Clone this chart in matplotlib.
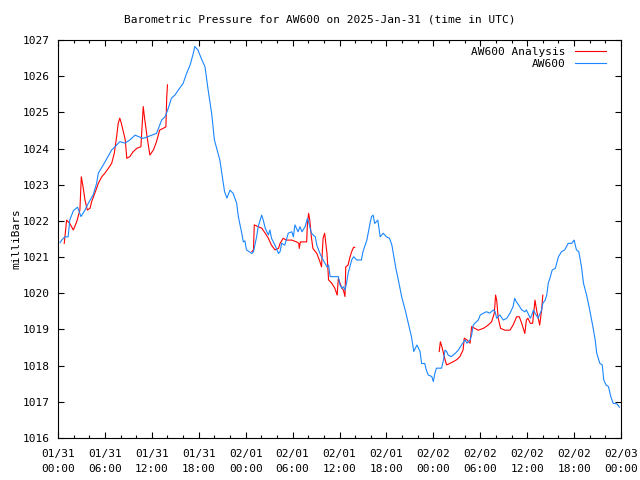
import numpy as np
import pandas as pd
import matplotlib
matplotlib.use("Agg")
import matplotlib.pyplot as plt
import matplotlib.dates as mdates

plt.rcParams['font.family'] = ['DejaVu Sans Mono']
plt.rcParams['font.size'] = 8

start = pd.Timestamp("2025-01-31 00:00")

# AW600 observations: hours since 01/31 00:00 UTC, pressure (mb)
aw600_hours = [0.26, 0.55, 0.9, 1.3, 1.5, 1.96, 2.5, 2.94, 3.45, 3.88, 4.5, 4.94, 5.16, 5.8, 6.4,
               6.86, 7.3, 7.9, 8.57, 9.2, 9.85, 10.3, 10.9, 12.0, 12.6, 13.26, 13.7, 14.1, 14.5,
               14.96, 15.4, 16.0, 16.45, 16.9, 17.3, 17.5, 17.9, 18.4, 18.8, 19.2, 19.65, 20.0,
               20.7, 21.3, 21.6, 22.0, 22.4, 22.85, 23.06, 23.5, 23.7, 23.9, 24.1, 24.8, 25.0,
               25.4, 25.6, 26.05, 26.25, 26.5, 26.9, 27.1, 27.3, 27.75, 28.2, 28.4, 28.6, 29.0,
               29.45, 29.9, 30.1, 30.3, 30.7, 30.95, 31.2, 31.6, 31.9, 32.1, 32.4, 32.9, 33.1,
               33.5, 33.9, 34.4, 34.6, 34.8, 35.4, 35.85, 36.06, 36.3, 36.5, 36.7, 36.9, 37.1,
               37.56, 37.8, 38.2, 38.8, 39.0, 39.5, 39.9, 40.1, 40.3, 40.5, 40.9, 41.2, 41.6,
               42.0, 42.4, 42.7, 43.2, 43.7, 43.95, 44.4, 44.8, 45.2, 45.5, 45.9, 46.3, 46.5,
               46.9, 47.1, 47.35, 47.8, 48.0, 48.2, 48.4, 49.05, 49.3, 49.5, 49.7, 49.9, 50.3,
               50.8, 51.2, 51.6, 52.05, 52.3, 52.7, 52.9, 53.1, 53.3, 53.75, 54.0, 54.4, 54.8,
               55.2, 55.7, 55.9, 56.1, 56.5, 56.95, 57.4, 57.8, 58.2, 58.4, 58.6, 58.9, 59.3,
               59.7, 59.9, 60.4, 60.6, 60.8, 61.0, 61.4, 61.85, 62.0, 62.3, 62.5, 62.7, 62.9,
               63.2, 63.6, 64.0, 64.4, 64.8, 65.25, 65.7, 66.0, 66.3, 66.6, 66.95, 67.2, 67.6,
               68.0, 68.4, 68.7, 68.9, 69.3, 69.6, 69.8, 70.1, 70.4, 70.7, 71.0, 71.5, 71.8]
aw600_mb = [1021.40, 1021.49, 1021.56, 1021.56, 1022.02, 1022.28, 1022.38, 1022.12, 1022.30,
            1022.49, 1022.72, 1023.04, 1023.32, 1023.55, 1023.78, 1023.96, 1024.05, 1024.19,
            1024.15, 1024.24, 1024.37, 1024.33, 1024.28, 1024.37, 1024.42, 1024.79, 1024.88,
            1025.11, 1025.39, 1025.48, 1025.62, 1025.80, 1026.08, 1026.31, 1026.63, 1026.82,
            1026.72, 1026.45, 1026.26, 1025.62, 1024.97, 1024.24, 1023.68, 1022.81, 1022.63,
            1022.85, 1022.76, 1022.49, 1022.12, 1021.66, 1021.42, 1021.45, 1021.20, 1021.10,
            1021.15, 1021.56, 1021.84, 1022.16, 1022.02, 1021.80, 1021.61, 1021.75, 1021.52,
            1021.33, 1021.10, 1021.15, 1021.38, 1021.33, 1021.66, 1021.70, 1021.56, 1021.89,
            1021.70, 1021.84, 1021.70, 1021.84, 1022.07, 1021.93, 1021.66, 1021.56, 1021.33,
            1021.10, 1020.92, 1020.73, 1020.78, 1020.46, 1020.46, 1020.46, 1020.23, 1020.14,
            1020.18, 1020.09, 1020.28, 1020.55, 1020.92, 1021.01, 1020.92, 1020.92, 1021.15,
            1021.47, 1021.93, 1022.12, 1022.16, 1021.93, 1022.02, 1021.56, 1021.66, 1021.56,
            1021.52, 1021.33, 1020.70, 1020.18, 1019.90, 1019.54, 1019.17, 1018.80, 1018.39,
            1018.57, 1018.39, 1018.06, 1018.06, 1017.88, 1017.74, 1017.70, 1017.56, 1017.79,
            1017.93, 1017.93, 1018.16, 1018.43, 1018.39, 1018.29, 1018.25, 1018.34, 1018.43,
            1018.57, 1018.71, 1018.62, 1018.71, 1018.85, 1019.12, 1019.17, 1019.26, 1019.40,
            1019.45, 1019.49, 1019.45, 1019.54, 1019.49, 1019.31, 1019.40, 1019.26, 1019.31,
            1019.45, 1019.63, 1019.86, 1019.77, 1019.68, 1019.54, 1019.49, 1019.54, 1019.31,
            1019.40, 1019.54, 1019.45, 1019.31, 1019.54, 1019.72, 1019.81, 1019.95, 1020.28,
            1020.41, 1020.64, 1020.69, 1021.01, 1021.15, 1021.20, 1021.38, 1021.38, 1021.47,
            1021.20, 1021.15, 1020.73, 1020.28, 1019.95, 1019.54, 1019.08, 1018.71, 1018.34,
            1018.06, 1018.02, 1017.60, 1017.46, 1017.42, 1017.14, 1016.96, 1016.94, 1016.85]

# AW600 Analysis: three separate stretches
ana1_hours = [0.8, 1.1, 1.5, 1.96, 2.4, 2.8, 2.98, 3.2, 3.45, 3.75, 4.1, 4.3, 4.7, 5.16, 5.6,
              6.0, 6.43, 6.86, 7.2, 7.5, 7.7, 7.9, 8.1, 8.35, 8.6, 8.8, 9.2, 9.6, 10.1, 10.6,
              10.8, 10.9, 11.1, 11.45, 11.75, 12.2, 12.6, 13.0, 13.47, 13.8, 13.9, 14.0]
ana1_mb = [1021.38, 1022.02, 1021.93, 1021.75, 1021.98, 1022.30, 1023.22, 1022.95, 1022.58,
           1022.30, 1022.35, 1022.53, 1022.76, 1023.04, 1023.22, 1023.32, 1023.45, 1023.59,
           1023.87, 1024.33, 1024.70, 1024.84, 1024.70, 1024.47, 1024.24, 1023.73, 1023.78,
           1023.91, 1024.01, 1024.05, 1024.79, 1025.16, 1024.79, 1024.24, 1023.82, 1023.96,
           1024.19, 1024.51, 1024.56, 1024.60, 1025.39, 1025.76]
ana2_hours = [24.8, 25.0, 25.1, 25.6, 26.05, 26.5, 26.9, 27.3, 27.75, 28.2, 28.4, 28.8, 29.2,
              29.9, 30.5, 30.8, 30.85, 31.0, 31.8, 31.9, 32.05, 32.2, 32.4, 32.6, 33.1, 33.5,
              33.7, 33.9, 34.1, 34.4, 34.6, 35.0, 35.4, 35.7, 35.85, 36.3, 36.5, 36.7, 36.8,
              37.1, 37.3, 37.56, 37.8, 37.95]
ana2_mb = [1021.15, 1021.20, 1021.89, 1021.84, 1021.80, 1021.66, 1021.52, 1021.33, 1021.20,
           1021.24, 1021.38, 1021.52, 1021.47, 1021.47, 1021.42, 1021.38, 1021.24, 1021.42,
           1021.42, 1021.93, 1022.21, 1022.02, 1021.56, 1021.24, 1021.10, 1020.87, 1020.73,
           1021.52, 1021.66, 1021.10, 1020.37, 1020.28, 1020.14, 1019.95, 1020.41, 1020.14,
           1020.09, 1019.91, 1020.73, 1020.78, 1020.97, 1021.15, 1021.27, 1021.27]
ana3_hours = [48.75, 48.9, 49.1, 49.5, 49.7, 50.1, 50.55, 50.96, 51.4, 51.8, 51.96, 52.3, 52.7,
              52.9, 53.3, 53.75, 54.4, 55.0, 55.45, 55.8, 55.96, 56.1, 56.3, 56.6, 57.15, 57.8,
              58.2, 58.65, 59.0, 59.3, 59.7, 59.9, 60.1, 60.4, 60.7, 61.0, 61.2, 61.6, 61.85, 62.0]
ana3_mb = [1018.39, 1018.66, 1018.52, 1018.16, 1018.02, 1018.06, 1018.11, 1018.16, 1018.25,
           1018.43, 1018.76, 1018.71, 1018.62, 1019.08, 1019.03, 1018.98, 1019.03, 1019.12,
           1019.21, 1019.45, 1019.95, 1019.81, 1019.31, 1019.03, 1018.98, 1018.98, 1019.12,
           1019.35, 1019.35, 1019.17, 1018.89, 1019.26, 1019.31, 1019.17, 1019.17, 1019.81,
           1019.54, 1019.12, 1019.54, 1019.95]

yticks = list(range(1016, 1028))


def to_time(hours):
    return (start + pd.to_timedelta(np.asarray(hours, dtype=float), unit="h")).to_pydatetime()


fig = plt.figure(figsize=(6.4, 4.8), dpi=100)
ax = fig.add_axes([58 / 640, 42 / 480, 563 / 640, 398 / 480])

segments = [(ana1_hours, ana1_mb), (ana2_hours, ana2_mb), (ana3_hours, ana3_mb)]
for i, (h, p) in enumerate(segments):
    ax.plot(to_time(h), p, color="#ff0000", lw=0.8,
            label="AW600 Analysis" if i == 0 else None)
ax.plot(to_time(aw600_hours), aw600_mb, color="#1a86ff", lw=0.8, label="AW600")

ax.set_xlim(start.to_pydatetime(), (start + pd.Timedelta(hours=72)).to_pydatetime())
ax.set_ylim(1016, 1027)
ax.set_yticks(yticks)
ax.xaxis.set_major_locator(mdates.HourLocator(byhour=range(0, 24, 6)))
ax.xaxis.set_minor_locator(mdates.HourLocator(byhour=range(0, 24, 2)))
ax.xaxis.set_major_formatter(mdates.DateFormatter("%m/%d\n%H:%M"))
ax.tick_params(which="both", direction="in", top=True, right=True, colors="black", labelsize=8)
ax.tick_params(which="major", length=4.5, width=0.8, pad=6)
ax.tick_params(axis="x", which="major", pad=8)
ax.tick_params(which="minor", length=2.5, width=0.8)
for lbl in ax.get_xticklabels():
    lbl.set_linespacing(1.6)
for s in ax.spines.values():
    s.set_linewidth(0.8)

ax.set_ylabel("milliBars", fontsize=8, labelpad=1)
fig.text(0.5, 1 - 19 / 480, "Barometric Pressure for AW600 on 2025-Jan-31 (time in UTC)",
         ha="center", va="center", fontsize=8)

ax.legend(loc="upper right", frameon=False, markerfirst=False, handlelength=2.8,
          borderaxespad=0.2, labelspacing=0.2, fontsize=8, bbox_to_anchor=(0.985, 1.0))

fig.savefig("out.png", dpi=100)
